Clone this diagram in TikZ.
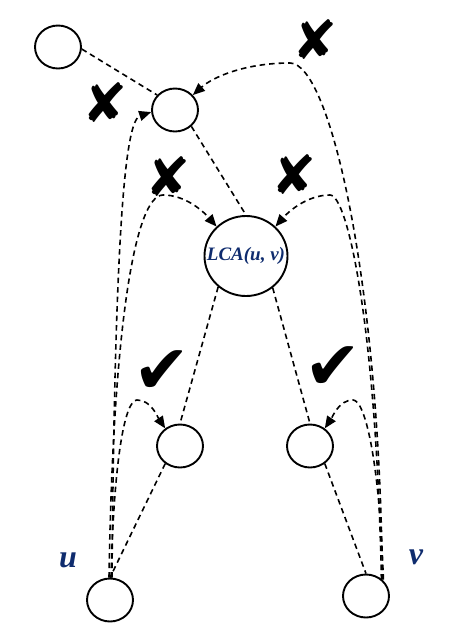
\documentclass[tikz,border=0pt]{standalone}
\usepackage{fontspec}
\setmainfont{Liberation Serif}
\newfontfamily\symfont{DejaVu Sans}
\usetikzlibrary{calc, positioning}
\usetikzlibrary{arrows.meta}
\usetikzlibrary{shapes.geometric}
\definecolor{navy}{HTML}{0F2C6E}

\tikzset{
  vtx/.style={draw, ellipse, line width=1.9pt, inner sep=0pt, minimum width=46pt, minimum height=43pt},
  treeedge/.style={line width=1.6pt, dash pattern=on 5.5pt off 4pt},
  query/.style={line width=1.6pt, dash pattern=on 5.5pt off 4pt, -{Triangle[length=12pt,width=10pt]}},
  nope/.style={font=\symfont\fontsize{54}{54}\selectfont},
  ok/.style={font=\symfont\fontsize{68}{68}\selectfont},
  lbl/.style={text=navy, font=\bfseries\itshape\fontsize{32}{32}\selectfont}
}

\begin{document}
\begin{tikzpicture}[x=1pt,y=-1pt]
\useasboundingbox (0,0) rectangle (453,633);

\node[vtx] (gp) at (58,47) {};
\node[vtx] (par) at (175,110) {};
\node[vtx, inner xsep=-14pt, minimum width=83pt, minimum height=80pt] (lca) at (246,256)
  {\color{navy}\bfseries\itshape\fontsize{19}{19}\selectfont LCA(u, v)};
\node[vtx] (cl) at (180,446) {};
\node[vtx] (cr) at (310,446) {};
\node[vtx] (u) at (110,600) {};
\node[vtx] (v) at (366,596) {};

\node[lbl] (ulbl) at (68,560) {u};
\node[lbl] (vlbl) at (416,557) {v};

\draw[treeedge] (gp.-5) -- (par.140);
\draw[treeedge] (par.-45) -- (lca.north);
\draw[treeedge] (lca.-132) -- (cl.north);
\draw[treeedge] (lca.-50) -- (cr.north);
\draw[treeedge] (cl.-130) -- (u.north);
\draw[treeedge] (cr.-50) -- (v.north);

% paths from u
\draw[query] ([xshift=2pt]u.north) .. controls +(3,-377) and +(-24,8) .. (par.185);
\draw[query] ([xshift=-1pt]u.north) .. controls +(4,-250) and +(-28,0) .. (163,195)
  .. controls +(22,0) and +(-14,-16) .. (lca.135);
\draw[query] ([xshift=1pt]u.north) .. controls +(3,-120) and +(-12,0) .. (137,400)
  .. controls +(14,0) and +(-8,-12) .. (cl.130);

% paths from v
\draw[query] (v.45) .. controls +(-3,-300) and +(40,0) .. (290,63)
  .. controls +(-45,0) and +(20,-18) .. (par.40);
\draw[query] ([xshift=-1pt]v.45) .. controls +(-5,-250) and +(18,0) .. (330,195)
  .. controls +(-22,0) and +(14,-16) .. (lca.45);
\draw[query] ([xshift=1pt]v.45) .. controls +(-4,-120) and +(12,0) .. (353,400)
  .. controls +(-14,0) and +(8,-12) .. (cr.50);

\node[nope] (x1) at (315,40) {✘};
\node[nope] (x2) at (105,103) {✘};
\node[nope] (x3) at (168,177) {✘};
\node[nope] (x4) at (294,175) {✘};
\node[ok] (ok1) at (162,372) {✔};
\node[ok] (ok2) at (333,368) {✔};
\end{tikzpicture}
\end{document}
